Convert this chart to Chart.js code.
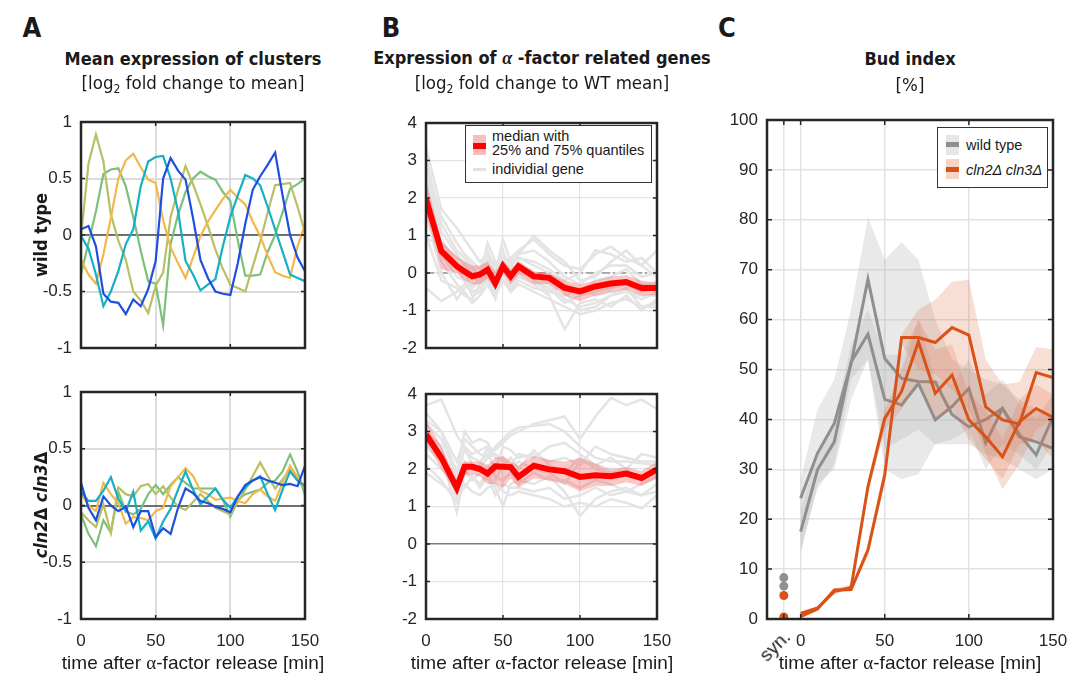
<!DOCTYPE html>
<html>
<head>
<meta charset="utf-8">
<script src="https://cdn.jsdelivr.net/npm/chart.js@4.4.0/dist/chart.umd.min.js"></script>
<style>
  body { margin: 0; width: 1077px; height: 686px; position: relative; overflow: hidden; background: #fff;
         font-family: "Liberation Sans", Arial, sans-serif; color: #1a1a1a; }
  canvas { position: absolute; }
  .lbl { position: absolute; white-space: nowrap; transform: translate(-50%, -50%); }
  .narrow { font-family: "Liberation Sans Narrow", "Arial Narrow", "DejaVu Sans Condensed", sans-serif; font-stretch: condensed; }
  .letter { font-size: 27px; font-weight: bold; }
  .title { font-size: 18px; font-weight: bold; }
  .sub { font-size: 18.5px; }
  .axis { font-size: 19px; }
  .legend { position: absolute; background: #fff; border: 1.5px solid #333; font-size: 14.5px; }
</style>
</head>
<body>
<canvas id="aTop"></canvas>
<canvas id="aBot"></canvas>
<canvas id="bTop"></canvas>
<canvas id="bBot"></canvas>
<canvas id="cMain"></canvas>

<script>
// TIME POINTS
const tA = [0, 5, 10, 15, 20, 25, 30, 35, 40, 45, 50, 55, 60, 65, 70, 75, 80, 85, 90, 95, 100, 105, 110, 115, 120, 125, 130, 135, 140, 145, 150];
const tB = [0, 10, 20, 25, 30, 35, 40, 45, 50, 55, 60, 70, 80, 90, 100, 110, 120, 130, 140, 150];
const tC = [0, 10, 20, 30, 40, 50, 60, 70, 80, 90, 100, 110, 120, 130, 140, 150];
const cTicks = [-10, 0, 50, 100, 150];
const synX = -10;

// PANEL A - WILD TYPE CLUSTERS
const wtBlue = [0.05, 0.08, -0.1, -0.52, -0.59, -0.6, -0.7, -0.57, -0.63, -0.48, -0.23, 0.5, 0.68, 0.57, 0.49, 0.15, -0.22, -0.38, -0.5, -0.52, -0.53, -0.25, 0.1, 0.4, 0.52, 0.62, 0.73, 0.35, 0.0, -0.2, -0.32];
const wtCyan = [-0.01, -0.12, -0.35, -0.63, -0.5, -0.32, -0.08, 0.05, 0.43, 0.65, 0.69, 0.7, 0.5, 0.21, -0.23, -0.35, -0.49, -0.44, -0.39, -0.1, 0.16, 0.35, 0.53, 0.5, 0.44, 0.25, 0.05, -0.15, -0.35, -0.38, -0.41];
const wtYellow = [-0.22, -0.35, -0.43, -0.17, 0.15, 0.5, 0.66, 0.72, 0.6, 0.49, 0.46, 0.13, -0.11, -0.25, -0.38, -0.2, -0.01, 0.12, 0.22, 0.32, 0.4, 0.33, 0.27, 0.12, -0.01, -0.18, -0.33, -0.36, -0.38, -0.1, 0.09];
const wtOlive = [-0.01, 0.63, 0.89, 0.65, 0.18, -0.05, -0.22, -0.5, -0.58, -0.69, -0.45, -0.33, 0.16, 0.4, 0.61, 0.45, 0.27, 0.08, -0.13, -0.3, -0.44, -0.47, -0.5, -0.28, -0.06, 0.2, 0.44, 0.45, 0.46, 0.25, 0.02];
const wtGreen = [-0.35, -0.07, 0.21, 0.54, 0.58, 0.59, 0.43, 0.16, -0.14, -0.41, -0.43, -0.8, -0.08, 0.18, 0.38, 0.5, 0.56, 0.52, 0.49, 0.38, 0.3, -0.05, -0.36, -0.36, -0.35, -0.15, 0.0, 0.2, 0.41, 0.45, 0.5];

// PANEL A - CLN2 CLN3 CLUSTERS
const mutBlue = [0.2, -0.02, -0.13, 0.08, 0.0, -0.05, -0.01, -0.19, -0.05, -0.05, -0.28, -0.2, -0.25, -0.02, 0.15, 0.11, 0.04, 0.02, -0.01, -0.03, -0.06, 0.08, 0.18, 0.22, 0.25, 0.22, 0.2, 0.18, 0.19, 0.17, 0.35];
const mutCyan = [0.12, 0.04, 0.04, 0.13, 0.25, 0.06, -0.05, 0.12, -0.22, -0.14, -0.29, -0.14, -0.03, 0.14, 0.3, 0.14, 0.01, 0.08, 0.15, 0.05, -0.02, 0.08, 0.16, 0.22, 0.26, 0.1, -0.04, 0.14, 0.3, 0.22, 0.17];
const mutYellow = [0.11, 0.0, -0.05, 0.2, 0.1, 0.02, -0.16, -0.1, -0.11, -0.13, -0.05, -0.02, 0.17, 0.25, 0.33, 0.26, 0.13, 0.1, 0.05, 0.06, 0.07, 0.04, 0.02, 0.1, 0.14, 0.08, 0.04, 0.2, 0.35, 0.25, 0.16];
const mutOlive = [-0.06, -0.13, -0.19, 0.01, -0.24, 0.16, 0.1, 0.08, 0.17, 0.19, 0.1, 0.17, 0.07, -0.01, -0.04, 0.03, 0.1, 0.04, -0.02, -0.05, -0.08, 0.03, 0.14, 0.26, 0.38, 0.26, 0.15, 0.23, 0.32, 0.22, 0.14];
const mutGreen = [-0.08, -0.25, -0.36, -0.13, -0.24, 0.12, -0.05, -0.08, -0.03, 0.1, 0.18, 0.1, 0.18, 0.25, 0.2, 0.15, 0.15, 0.15, 0.15, 0.05, -0.1, 0.05, 0.1, 0.12, 0.14, 0.2, 0.22, 0.3, 0.45, 0.3, 0.09];

const clusterColors = ["#1f4fe0", "#17afc6", "#f2b84b", "#b9bf62", "#7dc07c"];

// PANEL B - ALPHA FACTOR GENES, WILD TYPE
const bTopMedian = [1.97, 0.58, 0.18, 0.04, -0.09, -0.04, 0.09, -0.27, 0.18, -0.09, 0.18, -0.09, -0.13, -0.4, -0.49, -0.36, -0.28, -0.24, -0.4, -0.4];
const bTopQ75 = [2.5, 0.85, 0.45, 0.3, 0.2, 0.2, 0.3, 0.05, 0.35, 0.1, 0.3, 0.05, 0.0, -0.2, -0.3, -0.2, -0.1, -0.05, -0.2, -0.25];
const bTopQ25 = [1.6, 0.1, 0.0, -0.2, -0.3, -0.3, -0.15, -0.45, 0.0, -0.3, -0.05, -0.3, -0.3, -0.6, -0.75, -0.6, -0.5, -0.45, -0.6, -0.6];
const bTopGenes = [
  [3.35, 1.7, 1.2, 0.9, 0.6, 0.3, 0.5, 0.2, 0.3, 0.4, 0.6, 0.9, 0.5, 0.2, 0.1, 0.5, 0.7, 0.4, 0.2, 0.6],
  [3.1, 1.3, 0.6, 0.4, 0.2, -0.1, 0.8, 0.3, 0.0, 0.1, 0.5, 1.0, 0.6, 0.3, -0.2, -0.1, 0.3, 0.6, 0.2, -0.1],
  [2.8, 1.1, 0.5, 0.2, 0.0, -0.3, 0.1, -0.5, 0.4, -0.2, 0.2, -0.2, -0.4, -0.8, -0.6, -0.4, -0.3, -0.2, -0.5, -0.4],
  [2.6, 0.9, 0.2, 0.0, -0.4, -0.2, 0.3, -0.3, 0.6, 0.0, 0.3, 0.0, -0.2, -0.5, -1.0, -0.9, -0.6, -0.4, -0.9, -0.8],
  [2.3, 0.6, 0.1, -0.2, -0.5, -0.4, -0.2, -0.6, 0.2, -0.4, -0.1, -0.3, -0.6, -1.5, -0.8, -0.7, -0.9, -0.6, -1.0, -0.7],
  [2.0, 0.3, -0.3, -0.5, -0.8, -0.6, -0.3, -0.7, 0.0, -0.5, -0.2, -0.4, -0.5, -0.6, -0.4, -0.6, -0.5, -0.5, -0.6, -0.6],
  [1.6, 0.0, -0.7, -0.4, -0.3, -0.2, 0.2, -0.4, 0.5, 0.2, 0.4, 0.2, 0.0, -0.3, -0.5, -0.2, -0.1, 0.1, -0.3, -0.3],
  [1.0, -0.2, -0.4, -0.6, -0.7, -0.3, 0.0, -0.5, 0.1, -0.3, 0.0, -0.1, -0.3, -0.7, -0.9, -0.8, -0.6, -0.5, -0.7, -0.5],
  [0.9, 0.8, 0.4, 0.3, 0.1, 0.0, 0.4, 0.0, 0.9, 0.3, 0.5, 0.6, 0.3, -0.1, -0.3, 0.0, 0.2, 0.2, -0.1, 0.0],
  [-0.4, -0.75, -0.5, -0.3, -0.5, -0.5, -0.1, -0.6, -0.2, -0.5, -0.3, -0.5, -0.7, -0.9, -1.1, -1.0, -0.8, -0.7, -0.9, -0.9],
  [2.9, 1.5, 0.8, 0.5, 0.3, 0.1, 0.6, 0.0, 0.5, 0.2, 0.4, 0.3, 0.1, -0.2, 0.0, 0.6, 0.5, 0.3, 0.4, 0.0],
  [2.2, 0.5, -0.1, -0.2, -0.6, -0.5, 0.0, -0.4, 0.3, -0.1, 0.1, -0.2, -0.5, -0.3, -0.6, -0.5, -0.4, -0.3, -0.5, -0.2]
];

// PANEL B - ALPHA FACTOR GENES, CLN2 CLN3
const bBotMedian = [2.92, 2.3, 1.5, 2.06, 2.06, 2.0, 1.88, 2.07, 2.06, 2.05, 1.79, 2.09, 1.99, 1.94, 1.79, 1.83, 1.81, 1.88, 1.76, 1.99];
const bBotQ75 = [3.3, 2.6, 1.75, 2.2, 2.2, 2.2, 2.1, 2.3, 2.35, 2.2, 2.1, 2.35, 2.25, 2.2, 2.3, 2.15, 2.0, 2.05, 1.95, 2.2];
const bBotQ25 = [2.7, 2.0, 1.3, 1.85, 1.85, 1.8, 1.6, 1.6, 1.5, 1.75, 1.5, 1.75, 1.7, 1.6, 1.4, 1.55, 1.55, 1.65, 1.55, 1.75];
const bBotGenes = [
  [3.7, 3.85, 2.9, 2.6, 2.4, 2.5, 2.6, 2.5, 2.7, 2.9, 3.0, 3.2, 3.3, 3.4, 2.8, 3.4, 3.9, 3.7, 3.85, 3.6],
  [3.5, 3.0, 2.2, 2.8, 2.6, 2.4, 2.3, 2.6, 2.8, 3.0, 3.1, 3.15, 3.2, 3.0, 2.6, 2.3, 2.2, 2.2, 2.15, 2.1],
  [3.2, 2.8, 1.8, 2.5, 2.3, 2.2, 2.4, 2.0, 2.6, 2.5, 2.3, 2.4, 2.2, 2.3, 2.1, 2.6, 2.4, 2.3, 2.2, 2.2],
  [3.0, 2.6, 1.2, 2.2, 2.0, 2.1, 2.6, 1.7, 2.1, 2.3, 2.0, 2.5, 2.1, 1.9, 2.3, 2.0, 1.9, 2.0, 1.7, 1.9],
  [2.8, 2.4, 0.85, 1.9, 1.8, 1.6, 1.9, 1.5, 1.0, 1.6, 1.7, 1.6, 1.8, 1.4, 0.75, 1.2, 1.4, 1.5, 1.3, 1.6],
  [2.6, 2.2, 1.4, 2.0, 1.7, 1.9, 2.1, 1.8, 1.7, 1.9, 1.6, 1.9, 1.7, 1.7, 1.5, 1.7, 1.6, 1.4, 1.6, 1.8],
  [2.4, 2.0, 1.6, 2.6, 2.1, 2.0, 2.3, 2.4, 2.2, 2.0, 2.2, 2.0, 1.9, 1.6, 2.2, 2.1, 1.8, 1.9, 1.8, 2.0],
  [2.1, 1.7, 1.1, 1.6, 1.4, 1.3, 1.5, 1.6, 1.4, 1.3, 1.4, 1.3, 1.2, 1.0, 1.1, 1.0, 1.2, 1.1, 0.95, 1.3],
  [1.9, 1.6, 1.3, 1.5, 1.8, 1.5, 1.8, 1.3, 1.6, 1.5, 1.5, 1.4, 1.5, 1.2, 1.3, 1.5, 1.3, 1.4, 1.3, 1.4],
  [3.3, 3.0, 1.9, 3.0, 2.7, 2.8, 2.7, 2.3, 2.3, 2.1, 2.4, 2.3, 2.6, 2.7, 2.4, 2.1, 2.3, 2.0, 2.4, 2.3]
];

// PANEL C - BUD INDEX
const wt1 = [24.2, 33.2, 39.2, 51.2, 68.1, 52.2, 48.2, 47.6, 47.5, 41, 38.5, 40, 42.2, 36.5, 35.5, 34.2];
const wt1Hi = [28, 42, 48, 62, 80.5, 72, 75.5, 72, 60, 52, 50, 48, 47, 44, 42, 40];
const wt1Lo = [13, 27, 30, 44, 52, 30, 28, 29, 35, 35, 35, 33, 32, 30, 28, 30];
const wt2 = [17.5, 29.9, 35.5, 51.5, 57.1, 44, 42.9, 47.2, 39.9, 42.6, 46.2, 35.3, 42.2, 37, 32.9, 40.5];
const wt2Hi = [22, 33, 40, 55, 62, 53, 53, 60, 48, 47, 52, 45, 48, 43, 40, 45];
const wt2Lo = [14, 26, 31, 48, 52, 34, 36, 38, 35, 36, 38, 30, 35, 33, 30, 35];
const cln1 = [1.1, 2.2, 5.5, 6.3, 26.5, 40.2, 45.6, 55.6, 45.2, 48.9, 39.9, 36.5, 32.5, 39.5, 42.2, 40.4];
const cln1Hi = [1.5, 2.5, 6, 7, 28, 42, 50, 60, 54, 55, 45, 42, 36, 44, 47, 45];
const cln1Lo = [0.5, 1.8, 5, 5.8, 25, 38, 42, 48, 40, 42, 36, 32, 28, 35, 36, 32];
const cln2 = [0.5, 2.0, 5.8, 5.9, 13.8, 28.9, 56.4, 56.4, 55.4, 58.4, 56.9, 42.5, 39.9, 39.1, 49.4, 48.4];
const cln2Hi = [0.8, 2.3, 6.2, 6.5, 15, 31, 57, 62, 64, 67.6, 68, 52, 47, 47.5, 54.5, 54];
const cln2Lo = [0.2, 1.7, 5.4, 5.5, 12.5, 27, 55, 50, 49, 46, 42, 33, 26, 31, 38, 40];
const synWT = [8.3, 6.6];
const synCln = [4.7, 0.4];

const GRAY = "#8f8f8f";
const ORANGE = "#d95319";
const TICK_FONT = { family: "'Liberation Sans', Arial, sans-serif", size: 17 };

function pts(t, v) {
  return t.map((x, i) => ({ x: x, y: v[i] }));
}

// BOX WITH INWARD TICKS (MATLAB STYLE)
const boxPlugin = {
  id: "box",
  afterDraw(chart, args, opts) {
    const { ctx, chartArea: a, scales } = chart;
    const len = opts.len || 5;
    ctx.save();
    ctx.strokeStyle = "#262626";
    ctx.lineWidth = 1.5;
    ctx.beginPath();
    scales.x.ticks.forEach((t) => {
      const px = scales.x.getPixelForValue(t.value);
      ctx.moveTo(px, a.bottom); ctx.lineTo(px, a.bottom - len);
      ctx.moveTo(px, a.top); ctx.lineTo(px, a.top + len);
    });
    scales.y.ticks.forEach((t) => {
      const py = scales.y.getPixelForValue(t.value);
      ctx.moveTo(a.left, py); ctx.lineTo(a.left + len, py);
      ctx.moveTo(a.right, py); ctx.lineTo(a.right - len, py);
    });
    ctx.stroke();
    ctx.lineWidth = 2.5;
    ctx.strokeRect(a.left, a.top, a.width, a.height);
    ctx.restore();
  }
};

// PLACE CANVAS SO THE PLOT AREA LANDS ON GIVEN PIXELS
const PAD_T = 26, PAD_R = 36;
function place(id, area, yW, xH) {
  const cv = document.getElementById(id);
  const w = area.r - area.l + yW + PAD_R;
  const h = area.b - area.t + PAD_T + xH;
  cv.width = w; cv.height = h;
  cv.style.left = (area.l - yW) + "px";
  cv.style.top = (area.t - PAD_T) + "px";
  cv.style.width = w + "px";
  cv.style.height = h + "px";
  return cv;
}

function makeOptions(o) {
  return {
    responsive: false,
    animation: false,
    events: [],
    layout: { padding: { top: PAD_T, right: PAD_R, left: 0, bottom: 0 } },
    elements: { point: { radius: 0 }, line: { tension: 0 } },
    plugins: { legend: { display: false }, tooltip: { enabled: false }, box: { len: o.tickLen } },
    scales: {
      x: {
        type: "linear", min: o.xMin, max: o.xMax,
        border: { display: false },
        grid: { color: o.grid, lineWidth: o.gridW, drawTicks: false },
        ticks: { display: o.xLabels, stepSize: 50, padding: 12, color: "#262626", font: TICK_FONT, maxRotation: 0,
                 callback: (v) => (v === synX ? "" : String(v)) },
        afterBuildTicks: o.xTicks ? (s) => { s.ticks = o.xTicks.map((v) => ({ value: v })); } : undefined,
        afterFit: (s) => { s.height = o.xH; }
      },
      y: {
        type: "linear", min: o.yMin, max: o.yMax,
        border: { display: false },
        grid: {
          color: (c) => (c.tick && c.tick.value === 0 && o.zero ? o.zero : o.grid),
          lineWidth: (c) => (c.tick && c.tick.value === 0 && o.zero ? o.zeroW : o.gridW),
          drawTicks: false
        },
        ticks: { stepSize: o.yStep, padding: 9, color: "#262626", font: TICK_FONT, callback: (v) => String(v) },
        afterFit: (s) => { s.width = o.yW; }
      }
    }
  };
}

// PANEL A
function clusterChart(id, area, series, showX) {
  const xH = showX ? 40 : 26;
  const cv = place(id, area, 60, xH);
  new Chart(cv, {
    type: "line",
    data: {
      datasets: series.map((s, i) => ({
        data: pts(tA, s), borderColor: clusterColors[i], borderWidth: 2.2, fill: false
      }))
    },
    options: makeOptions({ xMin: 0, xMax: 150, yMin: -1, yMax: 1, yStep: 0.5, grid: "#dcdcdc", gridW: 2,
      zero: "#707070", zeroW: 2, xLabels: showX, xH: xH, yW: 60, tickLen: 4 }),
    plugins: [boxPlugin]
  });
}
clusterChart("aTop", { l: 81, r: 305, t: 122, b: 348 }, [wtBlue, wtCyan, wtYellow, wtOlive, wtGreen], false);
clusterChart("aBot", { l: 81, r: 305, t: 392, b: 619 }, [mutBlue, mutCyan, mutYellow, mutOlive, mutGreen], true);

// PANEL B
function geneChart(id, area, genes, med, q25, q75, showX, dashedZero) {
  const xH = showX ? 40 : 26;
  const cv = place(id, area, 60, xH);
  const ds = [];
  ds.push({ data: pts(tB, med), borderColor: "#ff0000", borderWidth: 6, fill: false, order: 1 });
  ds.push({ data: pts(tB, q25), borderWidth: 0, borderColor: "transparent", fill: false, order: 2 });
  ds.push({ data: pts(tB, q75), borderWidth: 0, borderColor: "transparent", backgroundColor: "rgba(245,70,70,0.3)", fill: "-1", order: 2 });
  genes.forEach((g) => ds.push({ data: pts(tB, g), borderColor: "#e4e4e4", borderWidth: 2.5, fill: false, order: 3 }));
  if (dashedZero) {
    ds.push({ data: pts([0, 150], [0, 0]), borderColor: "#6a6a6a", borderWidth: 1.2, borderDash: [8, 3, 2, 3], fill: false, order: 4 });
  }
  new Chart(cv, {
    type: "line",
    data: { datasets: ds },
    options: makeOptions({ xMin: 0, xMax: 150, yMin: -2, yMax: 4, yStep: 1, grid: "#e3e3e3", gridW: 1.2,
      zero: dashedZero ? null : "#7a7a7a", zeroW: 1.5, xLabels: showX, xH: xH, yW: 60, tickLen: 4 }),
    plugins: [boxPlugin]
  });
}
geneChart("bTop", { l: 426, r: 657, t: 123, b: 348 }, bTopGenes, bTopMedian, bTopQ25, bTopQ75, false, true);
geneChart("bBot", { l: 426, r: 657, t: 394, b: 619 }, bBotGenes, bBotMedian, bBotQ25, bBotQ75, true, false);

// PANEL C
(function () {
  const cv = place("cMain", { l: 767, r: 1053, t: 120, b: 619 }, 60, 40);
  const band = (lo, hi, color, order) => [
    { data: pts(tC, lo), borderWidth: 0, borderColor: "transparent", fill: false, order: order },
    { data: pts(tC, hi), borderWidth: 0, borderColor: "transparent", backgroundColor: color, fill: "-1", order: order }
  ];
  const ds = [
    { data: [{ x: synX, y: synWT[0] }, { x: synX, y: synWT[1] }], showLine: false, pointRadius: 4.5,
      pointBackgroundColor: GRAY, pointBorderWidth: 0, order: 0 },
    { data: [{ x: synX, y: synCln[0] }, { x: synX, y: synCln[1] }], showLine: false, pointRadius: 4.5,
      pointBackgroundColor: ORANGE, pointBorderWidth: 0, order: 0 },
    { data: pts(tC, cln1), borderColor: ORANGE, borderWidth: 3, fill: false, order: 1 },
    { data: pts(tC, cln2), borderColor: ORANGE, borderWidth: 3, fill: false, order: 1 },
    ...band(cln1Lo, cln1Hi, "rgba(225,110,70,0.22)", 2),
    ...band(cln2Lo, cln2Hi, "rgba(225,110,70,0.22)", 2),
    { data: pts(tC, wt1), borderColor: GRAY, borderWidth: 3, fill: false, order: 3 },
    { data: pts(tC, wt2), borderColor: GRAY, borderWidth: 3, fill: false, order: 3 },
    ...band(wt1Lo, wt1Hi, "rgba(175,175,175,0.28)", 4),
    ...band(wt2Lo, wt2Hi, "rgba(175,175,175,0.28)", 4)
  ];
  new Chart(cv, {
    type: "line",
    data: { datasets: ds },
    options: makeOptions({ xMin: -20, xMax: 150, yMin: 0, yMax: 100, yStep: 10, grid: "#e2e2e2", gridW: 1.5,
      zero: null, xLabels: true, xH: 40, yW: 60, xTicks: cTicks, tickLen: 5 }),
    plugins: [boxPlugin]
  });
})();

// TEXT
function label(html, x, y, cls, rot) {
  const d = document.createElement("div");
  d.className = "lbl " + cls;
  d.innerHTML = html;
  d.style.left = x + "px";
  d.style.top = y + "px";
  if (rot) d.style.transform = "translate(-50%, -50%) rotate(" + rot + "deg)";
  document.body.appendChild(d);
}
label("A", 32, 27, "narrow letter");
label("B", 391, 27, "narrow letter");
label("C", 727, 27, "narrow letter");

label("Mean expression of clusters", 193, 58, "narrow title");
label("[log<sub style='font-size:12px'>2</sub> fold change to mean]", 193, 84, "narrow sub");
label("Expression of <span style='font-family:serif;font-style:italic'>&alpha;</span> -factor related genes", 542, 58, "narrow title");
label("[log<sub style='font-size:12px'>2</sub> fold change to WT mean]", 542, 84, "narrow sub");
label("Bud index", 910, 58, "narrow title");
label("[%]", 910, 84, "narrow sub");

label("wild type", 40, 235, "narrow title", -90);
label("<i>cln2</i>&Delta; <i>cln3</i>&Delta;", 40, 505, "narrow title", -90);

const xTitle = "time after <span style='font-family:serif'>&alpha;</span>-factor release [min]";
label(xTitle, 193, 663, "axis");
label(xTitle, 542, 663, "axis");
label(xTitle, 910, 663, "axis");
label("syn.", 775, 646, "axis", -45);

// LEGENDS
function legendBox(x, y, w, h, inner) {
  const d = document.createElement("div");
  d.className = "legend";
  d.style.left = x + "px"; d.style.top = y + "px";
  d.style.width = w + "px"; d.style.height = h + "px";
  d.innerHTML = inner;
  document.body.appendChild(d);
}
legendBox(465, 125, 185, 56,
  "<div style='position:absolute;left:7px;top:9px;width:13px;height:20px;background:#fbbcbc'></div>" +
  "<div style='position:absolute;left:7px;top:17px;width:13px;height:6px;background:#ff0000'></div>" +
  "<div style='position:absolute;left:7px;top:42px;width:13px;height:2.5px;background:#e2e2e2'></div>" +
  "<div style='position:absolute;left:26px;top:3px;line-height:14px'>median with<br>25% and 75% quantiles</div>" +
  "<div style='position:absolute;left:26px;top:36px;line-height:14px'>individial gene</div>");
legendBox(937, 127, 109, 59,
  "<div style='position:absolute;left:8px;top:7px;width:13px;height:20px;background:#e6e6e6'></div>" +
  "<div style='position:absolute;left:8px;top:14px;width:13px;height:5px;background:#8f8f8f'></div>" +
  "<div style='position:absolute;left:8px;top:31px;width:13px;height:20px;background:#f6d4c6'></div>" +
  "<div style='position:absolute;left:8px;top:39px;width:13px;height:5px;background:#d95319'></div>" +
  "<div style='position:absolute;left:28px;top:9px;line-height:16px'>wild type</div>" +
  "<div style='position:absolute;left:28px;top:34px;line-height:16px;font-style:italic'>cln2&Delta; cln3&Delta;</div>");
</script>
</body>
</html>
